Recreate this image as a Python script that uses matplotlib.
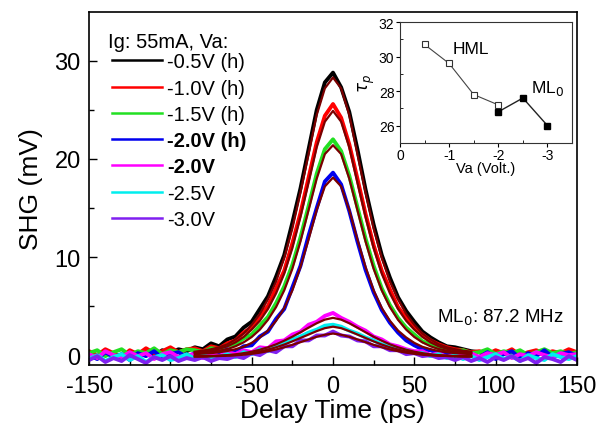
#SHG autocorrelation traces with inset of pulse width vs bias
import matplotlib
matplotlib.use("Agg")
import numpy as np
import matplotlib.pyplot as plt

plt.rcParams['font.family'] = ['Liberation Sans', 'DejaVu Sans']
plt.rcParams['axes.unicode_minus'] = False

# measured traces, sampled every 5 ps from -150 to 150
delay = list(range(-150, 155, 5))
shg_black = [0.3, -0.2, 0.5, 0.1, -0.3, 0.4, 0.0, 0.3, -0.1, 0.5, 0.2, 0.6, 0.4,
             0.8, 0.6, 1.2, 0.9, 1.6, 1.9, 2.8, 3.4, 4.7, 6.0, 8.0, 10.2, 13.5, 17.0, 21.0, 25.0, 27.8,
             28.8,
             27.3, 24.8, 21.0, 16.9, 13.3, 10.2, 7.9, 5.9, 4.5, 3.4, 2.4, 1.8, 1.3, 0.9, 0.8, 0.6, 0.4,
             0.3, 0.0, 0.4, 0.2, -0.1, 0.3, 0.1, 0.4, 0.0, 0.3, 0.2, 0.1, 0.3]
shg_red = [0.4, 0.0, 0.6, 0.2, -0.2, 0.5, 0.1, 0.7, 0.2, 0.4, 0.8, 0.3, 0.6,
           0.7, 0.4, 0.9, 0.7, 1.2, 1.5, 2.3, 2.8, 4.0, 5.0, 6.8, 8.6, 11.4, 14.5, 18.1, 21.7, 24.4,
           25.6,
           24.2, 21.5, 18.0, 14.4, 11.2, 8.6, 6.7, 4.9, 3.8, 2.8, 2.1, 1.5, 1.1, 0.8, 0.6, 0.5, 0.3,
           0.4, 0.1, 0.5, 0.2, 0.6, 0.0, 0.3, 0.5, 0.1, 0.4, 0.2, 0.6, 0.3]
shg_green = [0.2, 0.5, -0.1, 0.3, 0.6, 0.0, 0.4, 0.2, 0.7, 0.1, 0.5, 0.3, 0.6,
             0.5, 0.3, 0.7, 0.6, 1.0, 1.1, 1.7, 2.1, 3.0, 3.9, 5.3, 7.0, 9.2, 12.0, 15.2, 18.5, 21.0,
             22.0,
             20.8, 18.3, 15.1, 11.9, 9.1, 6.8, 5.1, 3.8, 2.8, 2.1, 1.4, 1.1, 0.7, 0.6, 0.4, 0.5, 0.2,
             0.3, 0.6, 0.1, 0.4, 0.2, 0.5, 0.0, 0.3, 0.6, 0.2, 0.4, 0.1, 0.3]
shg_blue = [0.0, -0.4, 0.3, -0.2, 0.1, -0.5, 0.2, -0.1, 0.4, -0.3, 0.1, 0.3, -0.2,
            0.2, -0.2, 0.4, 0.1, 0.6, 0.3, 0.9, 1.0, 1.9, 2.4, 3.7, 4.7, 6.9, 9.1, 12.2, 15.0, 17.7,
            18.6,
            17.4, 14.7, 11.6, 8.7, 6.4, 4.6, 3.3, 2.3, 1.5, 1.0, 0.6, 0.5, 0.2, 0.2, -0.1, 0.2, 0.0,
            -0.2, 0.3, -0.4, 0.1, 0.4, -0.3, 0.2, -0.1, 0.5, -0.2, 0.1, 0.3, -0.1]
shg_magenta = [0.1, -0.3, 0.4, 0.0, -0.2, 0.3, -0.1, 0.2, -0.4, 0.1, 0.3, -0.2, 0.0,
               0.1, -0.3, 0.2, -0.1, 0.3, 0.1, 0.5, 0.3, 0.8, 0.7, 1.4, 1.5, 2.1, 2.4, 3.1, 3.4, 4.0,
               4.3,
               3.8, 3.4, 2.9, 2.5, 1.9, 1.6, 1.1, 0.9, 0.6, 0.4, 0.4, 0.0, 0.2, -0.2, 0.1, -0.1, 0.2,
               -0.2, 0.2, 0.0, 0.3, -0.3, 0.1, -0.1, 0.3, 0.0, -0.2, 0.2, 0.0, 0.1]
shg_cyan = [-0.4, 0.0, -0.6, -0.2, 0.1, -0.5, -0.1, -0.7, -0.2, 0.0, -0.5, -0.3, 0.1,
            -0.4, 0.0, -0.3, -0.2, 0.1, -0.2, 0.3, 0.1, 0.6, 0.4, 1.0, 1.2, 1.6, 1.9, 2.3, 2.6, 3.0,
            3.1,
            2.9, 2.5, 2.2, 1.8, 1.5, 1.1, 1.0, 0.6, 0.5, 0.2, 0.2, -0.1, 0.1, -0.3, 0.0, -0.4, -0.1,
            -0.5, -0.2, 0.1, -0.4, -0.1, -0.6, 0.0, -0.3, -0.5, 0.1, -0.2, -0.4, -0.1]
shg_purple = [-0.5, -0.1, -0.7, -0.3, -0.6, 0.0, -0.4, -0.8, -0.2, -0.5, -0.1, -0.6, -0.3,
              -0.5, -0.2, -0.6, -0.3, -0.4, -0.1, -0.3, 0.2, 0.0, 0.5, 0.3, 0.9, 0.9, 1.5, 1.5, 2.0, 2.0,
              2.4,
              2.0, 1.9, 1.5, 1.4, 0.9, 0.9, 0.5, 0.5, 0.1, 0.2, -0.1, 0.0, -0.3, -0.2, -0.5, -0.2, -0.6,
              -0.3, -0.7, -0.2, -0.5, -0.1, -0.6, -0.3, -0.8, -0.2, -0.4, -0.7, -0.1, -0.5]

# fitted curves, every 5 ps from -85 to 85
fit_delay = list(range(-85, 90, 5))
fit_black = [0.35, 0.45, 0.6, 0.8, 1.1, 1.6, 2.2, 3.1, 4.2, 5.7, 7.5, 9.9, 12.9, 16.6, 20.5, 24.5, 27.2,
             28.3,
             27.2, 24.5, 20.5, 16.6, 12.9, 9.9, 7.5, 5.7, 4.2, 3.1, 2.2, 1.6, 1.1, 0.8, 0.6, 0.45, 0.35]
fit_red = [0.3, 0.38, 0.5, 0.65, 0.9, 1.3, 1.85, 2.6, 3.5, 4.7, 6.3, 8.3, 10.9, 14.1, 17.6, 21.2, 23.8,
           24.9,
           23.8, 21.2, 17.6, 14.1, 10.9, 8.3, 6.3, 4.7, 3.5, 2.6, 1.85, 1.3, 0.9, 0.65, 0.5, 0.38, 0.3]
fit_green = [0.2, 0.25, 0.35, 0.45, 0.62, 0.9, 1.3, 1.85, 2.6, 3.6, 4.9, 6.6, 8.8, 11.6, 14.8, 18.0, 20.5,
             21.4,
             20.5, 18.0, 14.8, 11.6, 8.8, 6.6, 4.9, 3.6, 2.6, 1.85, 1.3, 0.9, 0.62, 0.45, 0.35, 0.25, 0.2]
fit_blue = [0.1, 0.15, 0.2, 0.3, 0.42, 0.6, 0.85, 1.25, 1.8, 2.5, 3.5, 4.8, 6.6, 9.0, 11.8, 14.8, 17.2,
            18.1,
            17.2, 14.8, 11.8, 9.0, 6.6, 4.8, 3.5, 2.5, 1.8, 1.25, 0.85, 0.6, 0.42, 0.3, 0.2, 0.15, 0.1]
fit_magenta = [-0.12, -0.11, -0.09, -0.05, 0.0, 0.08, 0.2, 0.35, 0.55, 0.8, 1.1, 1.47, 1.88, 2.33, 2.8, 3.25, 3.62,
               3.8,
               3.62, 3.25, 2.8, 2.33, 1.88, 1.47, 1.1, 0.8, 0.55, 0.35, 0.2, 0.08, 0.0, -0.05, -0.09, -0.11, -0.12]
fit_cyan = [-0.14, -0.13, -0.11, -0.08, -0.04, 0.02, 0.1, 0.22, 0.37, 0.56, 0.8, 1.08, 1.4, 1.75, 2.1, 2.45, 2.75,
            2.9,
            2.75, 2.45, 2.1, 1.75, 1.4, 1.08, 0.8, 0.56, 0.37, 0.22, 0.1, 0.02, -0.04, -0.08, -0.11, -0.13, -0.14]
fit_purple = [-0.14, -0.13, -0.11, -0.09, -0.06, -0.02, 0.04, 0.13, 0.25, 0.4, 0.58, 0.8, 1.05, 1.32, 1.6, 1.87, 2.08,
              2.2,
              2.08, 1.87, 1.6, 1.32, 1.05, 0.8, 0.58, 0.4, 0.25, 0.13, 0.04, -0.02, -0.06, -0.09, -0.11, -0.13, -0.14]

labels = ["-0.5V (h)", "-1.0V (h)", "-1.5V (h)", "-2.0V (h)", "-2.0V", "-2.5V", "-3.0V"]
bold_labels = ["-2.0V (h)", "-2.0V"]
colors = ["#000000", "#ff0000", "#22e022", "#0000ee", "#ff00ff", "#00eeee", "#8020f0"]

# inset: pulse width vs applied voltage
va_hml = [-0.5, -1.0, -1.5, -2.0]
tau_hml = [30.7, 29.6, 27.8, 27.2]
va_ml0 = [-2.0, -2.5, -3.0]
tau_ml0 = [26.8, 27.6, 26.0]

traces = [shg_black, shg_red, shg_green, shg_blue, shg_magenta, shg_cyan, shg_purple]
fits = [fit_black, fit_red, fit_green, fit_blue, fit_magenta, fit_cyan, fit_purple]

fig = plt.figure(figsize=(6.06, 4.27), dpi=100)
ax = fig.add_axes([0.147, 0.143, 0.805, 0.827])

for trace, c, lab in zip(traces, colors, labels):
    ax.plot(delay, trace, color=c, lw=2.8, label=lab)
for f in fits:
    ax.plot(fit_delay, f, color="#7a0000", lw=1.6)

ax.set_xlim(-150, 150)
ax.set_ylim(-1.0, 35.0)
ax.set_xticks([-150, -100, -50, 0, 50, 100, 150])
ax.set_xticks(np.arange(-125, 150, 50), minor=True)
ax.set_yticks([0, 10, 20, 30])
ax.set_yticks([5, 15, 25], minor=True)
ax.tick_params(direction="in", labelsize=17, length=6, width=1)
ax.tick_params(which="minor", direction="in", length=3.5, width=1)
ax.tick_params(axis="x", pad=7)
ax.tick_params(axis="y", pad=6)
ax.tick_params(top=False, right=False)
ax.set_xlabel("Delay Time (ps)", fontsize=19, labelpad=1)
ax.set_ylabel("SHG (mV)", fontsize=19, labelpad=8)
for s in ax.spines.values():
    s.set_linewidth(1.2)

ax.text(64, 3.9, r"ML$_0$: 87.2 MHz", fontsize=13.5, va="center", ha="left")

# legend title as plain text, entries below it
ax.text(0.039, 0.915, "Ig: 55mA, Va:", transform=ax.transAxes, fontsize=14.5,
        va="center", ha="left")
leg = ax.legend(loc="upper left", bbox_to_anchor=(0.048, 0.885), frameon=False,
                fontsize=14.5, handlelength=2.45, handletextpad=0.25, labelspacing=0.36,
                borderaxespad=0.0, borderpad=0.0)
for txt in leg.get_texts():
    if txt.get_text() in bold_labels:
        txt.set_fontweight("bold")
for line in leg.get_lines():
    line.set_linewidth(1.8)

# inset
axin = fig.add_axes([0.660, 0.663, 0.284, 0.283])
axin.plot(va_hml + va_ml0[:1], tau_hml + tau_ml0[:1], color="#444444", lw=0.8)
axin.plot(va_ml0, tau_ml0, color="#222222", lw=1.0)
axin.plot(va_hml, tau_hml, ls="none", marker="s", ms=4, mfc="white", mec="#333333", mew=0.8)
axin.plot(va_ml0, tau_ml0, ls="none", marker="s", ms=4.5, mfc="black", mec="black")
axin.set_xlim(0, -3.5)
axin.set_ylim(25, 32)
axin.set_xticks([0, -1, -2, -3])
axin.set_xticklabels(["0", "-1", "-2", "-3"])
axin.set_xticks([-0.5, -1.5, -2.5], minor=True)
axin.set_yticks([26, 28, 30, 32])
axin.set_yticks([27, 29, 31], minor=True)
axin.tick_params(direction="out", labelsize=10, length=3, pad=1)
axin.tick_params(which="minor", direction="in", length=2)
axin.set_xlabel("Va (Volt.)", fontsize=10.5, labelpad=-1)
axin.set_ylabel(r"$\tau_p$", fontsize=12, labelpad=1)
for s in axin.spines.values():
    s.set_linewidth(0.8)
    s.set_color("#333333")
axin.text(-1.07, 30.45, "HML", fontsize=12.5, va="center")
axin.text(-2.67, 28.2, r"ML$_0$", fontsize=12.5, va="center")

fig.savefig("out.png", dpi=100)
